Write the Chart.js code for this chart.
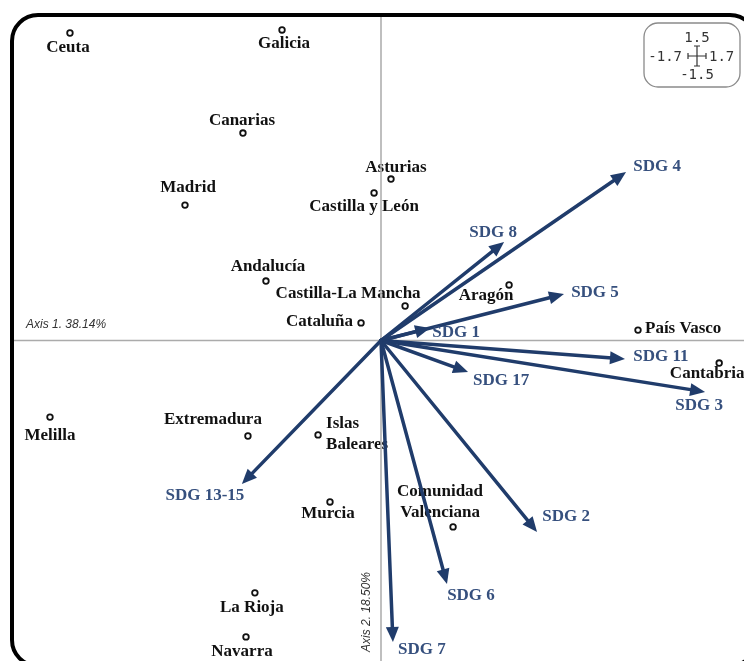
<!DOCTYPE html>
<html>
<head>
<meta charset="utf-8">
<script src="https://cdn.jsdelivr.net/npm/chart.js@4/dist/chart.umd.min.js"></script>
<style>
  html, body { margin: 0; padding: 0; background: #fff; overflow: hidden; }
  #wrap { position: absolute; left: 0; top: 0; width: 770px; height: 690px; }
</style>
</head>
<body>
<div id="wrap"><canvas id="c" width="770" height="690"></canvas></div>
<script>
// Plot limits of the factorial map
const xRange = [-1.7, 1.7];
const yRange = [-1.5, 1.5];
const axisTitles = ['Axis 1. 38.14%', 'Axis 2. 18.50%'];

// Autonomous communities (row scores)
const regions = ['Ceuta', 'Galicia', 'Canarias', 'Madrid', 'Asturias', 'Castilla y León',
  'Andalucía', 'Castilla-La Mancha', 'Cataluña', 'Aragón', 'País Vasco', 'Cantabria',
  'Melilla', 'Extremadura', 'Islas Baleares', 'Murcia', 'Comunidad Valenciana',
  'La Rioja', 'Navarra'];
const regionX = [-1.433, -0.456, -0.636, -0.903, 0.046, -0.032, -0.530, 0.111, -0.092,
  0.590, 1.184, 1.558, -1.525, -0.613, -0.290, -0.235, 0.332, -0.581, -0.622];
const regionY = [1.417, 1.431, 0.956, 0.624, 0.744, 0.680, 0.274, 0.159, 0.081,
  0.256, 0.048, -0.104, -0.353, -0.440, -0.435, -0.744, -0.859, -1.163, -1.366];

// SDG variables (column loadings)
const sdgs = ['SDG 4', 'SDG 8', 'SDG 5', 'SDG 1', 'SDG 11', 'SDG 3', 'SDG 17',
  'SDG 2', 'SDG 6', 'SDG 7', 'SDG 13-15'];
const sdgX = [1.129, 0.567, 0.843, 0.226, 1.124, 1.493, 0.401, 0.719, 0.304, 0.055, -0.641];
const sdgY = [0.776, 0.454, 0.214, 0.058, -0.085, -0.237, -0.145, -0.882, -1.122, -1.389, -0.661];

// Label placement (pixel offsets from the mark, text alignment, line breaks)
const regionLabelLayout = {
  'Ceuta': [-2, 15, 'center'],
  'Galicia': [2, 14, 'center'],
  'Canarias': [-1, -12, 'center'],
  'Madrid': [3, -17, 'center'],
  'Asturias': [5, -11, 'center'],
  'Castilla y León': [-10, 14, 'center'],
  'Andalucía': [2, -14, 'center'],
  'Castilla-La Mancha': [-57, -12, 'center'],
  'Cataluña': [-8, -1, 'right'],
  'Aragón': [-23, 11, 'center'],
  'País Vasco': [7, -1, 'left'],
  'Cantabria': [-12, 11, 'center'],
  'Melilla': [0, 19, 'center'],
  'Extremadura': [-35, -16, 'center'],
  'Islas Baleares': [8, -11, 'left', ['Islas', 'Baleares']],
  'Murcia': [-2, 12, 'center'],
  'Comunidad Valenciana': [-13, -35, 'center', ['Comunidad', 'Valenciana']],
  'La Rioja': [-3, 15, 'center'],
  'Navarra': [-4, 15, 'center']
};
const sdgLabelLayout = {
  'SDG 4': [31, -5], 'SDG 8': [-11, -9], 'SDG 5': [31, -1], 'SDG 1': [26, 5],
  'SDG 11': [36, -2], 'SDG 3': [-6, 14], 'SDG 17': [33, 9], 'SDG 2': [29, -15],
  'SDG 6': [24, 12], 'SDG 7': [29, 8], 'SDG 13-15': [-37, 12]
};

const ARROW = '#203c6b';
const SDG_TEXT = '#36507e';
const SERIF = '"Liberation Serif", "Times New Roman", serif';

const biplot = {
  id: 'biplot',
  beforeDatasetsDraw(chart) {
    const { ctx, scales: { x, y } } = chart;
    const x0 = x.getPixelForValue(0), y0 = y.getPixelForValue(0);
    // region labels
    ctx.save();
    ctx.fillStyle = '#111';
    ctx.font = 'bold 17px ' + SERIF;
    ctx.textBaseline = 'middle';
    regions.forEach((name, i) => {
      const [dx, dy, align, lines] = regionLabelLayout[name];
      const px = x.getPixelForValue(regionX[i]) + dx;
      const py = y.getPixelForValue(regionY[i]) + dy;
      ctx.textAlign = align;
      const txt = lines || [name];
      txt.forEach((t, k) => ctx.fillText(t, px, py + k * 21));
    });
    ctx.restore();
    // axes through the origin
    ctx.save();
    ctx.strokeStyle = '#ababab';
    ctx.lineWidth = 1.5;
    ctx.beginPath();
    ctx.moveTo(x.getPixelForValue(xRange[0]), y0);
    ctx.lineTo(x.getPixelForValue(xRange[1]), y0);
    ctx.moveTo(x0, y.getPixelForValue(yRange[1]));
    ctx.lineTo(x0, y.getPixelForValue(yRange[0]));
    ctx.stroke();
    ctx.restore();
  },
  afterDatasetsDraw(chart) {
    const { ctx, scales: { x, y } } = chart;
    const x0 = x.getPixelForValue(0), y0 = y.getPixelForValue(0);
    // arrows
    ctx.save();
    ctx.strokeStyle = ARROW;
    ctx.fillStyle = ARROW;
    ctx.lineWidth = 3.5;
    ctx.lineCap = 'round';
    sdgs.forEach((name, i) => {
      const tx = x.getPixelForValue(sdgX[i]);
      const ty = y.getPixelForValue(sdgY[i]);
      const ang = Math.atan2(ty - y0, tx - x0);
      const head = 15, half = 6.5;
      const bx = tx - head * Math.cos(ang), by = ty - head * Math.sin(ang);
      ctx.beginPath();
      ctx.moveTo(x0, y0);
      ctx.lineTo(bx + 2 * Math.cos(ang), by + 2 * Math.sin(ang));
      ctx.stroke();
      ctx.beginPath();
      ctx.moveTo(tx, ty);
      ctx.lineTo(bx + half * Math.sin(ang), by - half * Math.cos(ang));
      ctx.lineTo(bx - half * Math.sin(ang), by + half * Math.cos(ang));
      ctx.closePath();
      ctx.fill();
    });
    // SDG labels
    ctx.fillStyle = SDG_TEXT;
    ctx.font = 'bold 17px ' + SERIF;
    ctx.textAlign = 'center';
    ctx.textBaseline = 'middle';
    sdgs.forEach((name, i) => {
      const [dx, dy] = sdgLabelLayout[name];
      ctx.fillText(name, x.getPixelForValue(sdgX[i]) + dx, y.getPixelForValue(sdgY[i]) + dy);
    });
    ctx.restore();

    // axis titles
    ctx.save();
    ctx.fillStyle = '#333';
    ctx.font = 'italic 12px "Liberation Sans", Arial, sans-serif';
    ctx.textBaseline = 'middle';
    ctx.textAlign = 'left';
    ctx.fillText(axisTitles[0], x.getPixelForValue(xRange[0]) + 14, y0 - 16);
    ctx.translate(x0 - 14, y.getPixelForValue(yRange[0]) - 54);
    ctx.rotate(-Math.PI / 2);
    ctx.textAlign = 'center';
    ctx.fillText(axisTitles[1], 0, 0);
    ctx.restore();

    // scale box (plot limits)
    ctx.save();
    const bx0 = 644, by0 = 23, bw = 96, bh = 64;
    ctx.strokeStyle = '#8a8a8a';
    ctx.lineWidth = 1.3;
    ctx.beginPath();
    ctx.roundRect(bx0, by0, bw, bh, 14);
    ctx.stroke();
    const cx = 697, cy = 56;
    ctx.fillStyle = '#333';
    ctx.font = '14px "DejaVu Sans Mono", monospace';
    ctx.textBaseline = 'middle';
    ctx.textAlign = 'center';
    ctx.fillText(yRange[1].toFixed(1), cx, cy - 18);
    ctx.fillText(yRange[0].toFixed(1), cx, cy + 19);
    ctx.textAlign = 'right';
    ctx.fillText(xRange[0].toFixed(1), cx - 15, cy + 1);
    ctx.textAlign = 'left';
    ctx.fillText(xRange[1].toFixed(1), cx + 12, cy + 1);
    ctx.strokeStyle = '#333';
    ctx.lineWidth = 1.2;
    ctx.beginPath();
    ctx.moveTo(cx - 9, cy); ctx.lineTo(cx + 9, cy);
    ctx.moveTo(cx - 9, cy - 3); ctx.lineTo(cx - 9, cy + 3);
    ctx.moveTo(cx + 9, cy - 3); ctx.lineTo(cx + 9, cy + 3);
    ctx.moveTo(cx, cy - 10); ctx.lineTo(cx, cy + 10);
    ctx.moveTo(cx - 3, cy - 10); ctx.lineTo(cx + 3, cy - 10);
    ctx.moveTo(cx - 3, cy + 10); ctx.lineTo(cx + 3, cy + 10);
    ctx.stroke();
    ctx.restore();

    // frame
    ctx.save();
    ctx.strokeStyle = '#000';
    ctx.lineWidth = 4;
    const fl = x.getPixelForValue(xRange[0]), fr = x.getPixelForValue(xRange[1]) + 6;
    const ft = y.getPixelForValue(yRange[1]), fb = y.getPixelForValue(yRange[0]);
    ctx.beginPath();
    ctx.roundRect(fl, ft, fr - fl, fb - ft, 26);
    ctx.stroke();
    ctx.restore();
  }
};

new Chart(document.getElementById('c'), {
  type: 'scatter',
  data: {
    datasets: [{
      label: 'Regions',
      data: regions.map((r, i) => ({ x: regionX[i], y: regionY[i] })),
      pointRadius: 2.8,
      pointBorderWidth: 1.8,
      pointBorderColor: '#111',
      pointBackgroundColor: '#fff',
      pointHoverRadius: 2.8,
      clip: false
    }]
  },
  options: {
    responsive: false,
    devicePixelRatio: 1,
    animation: false,
    layout: { padding: { left: 12, top: 15, right: 20, bottom: 24 } },
    plugins: { legend: { display: false }, tooltip: { enabled: false } },
    events: [],
    scales: {
      x: { type: 'linear', min: xRange[0], max: xRange[1], display: false },
      y: { type: 'linear', min: yRange[0], max: yRange[1], display: false }
    }
  },
  plugins: [biplot]
});
</script>
</body>
</html>
